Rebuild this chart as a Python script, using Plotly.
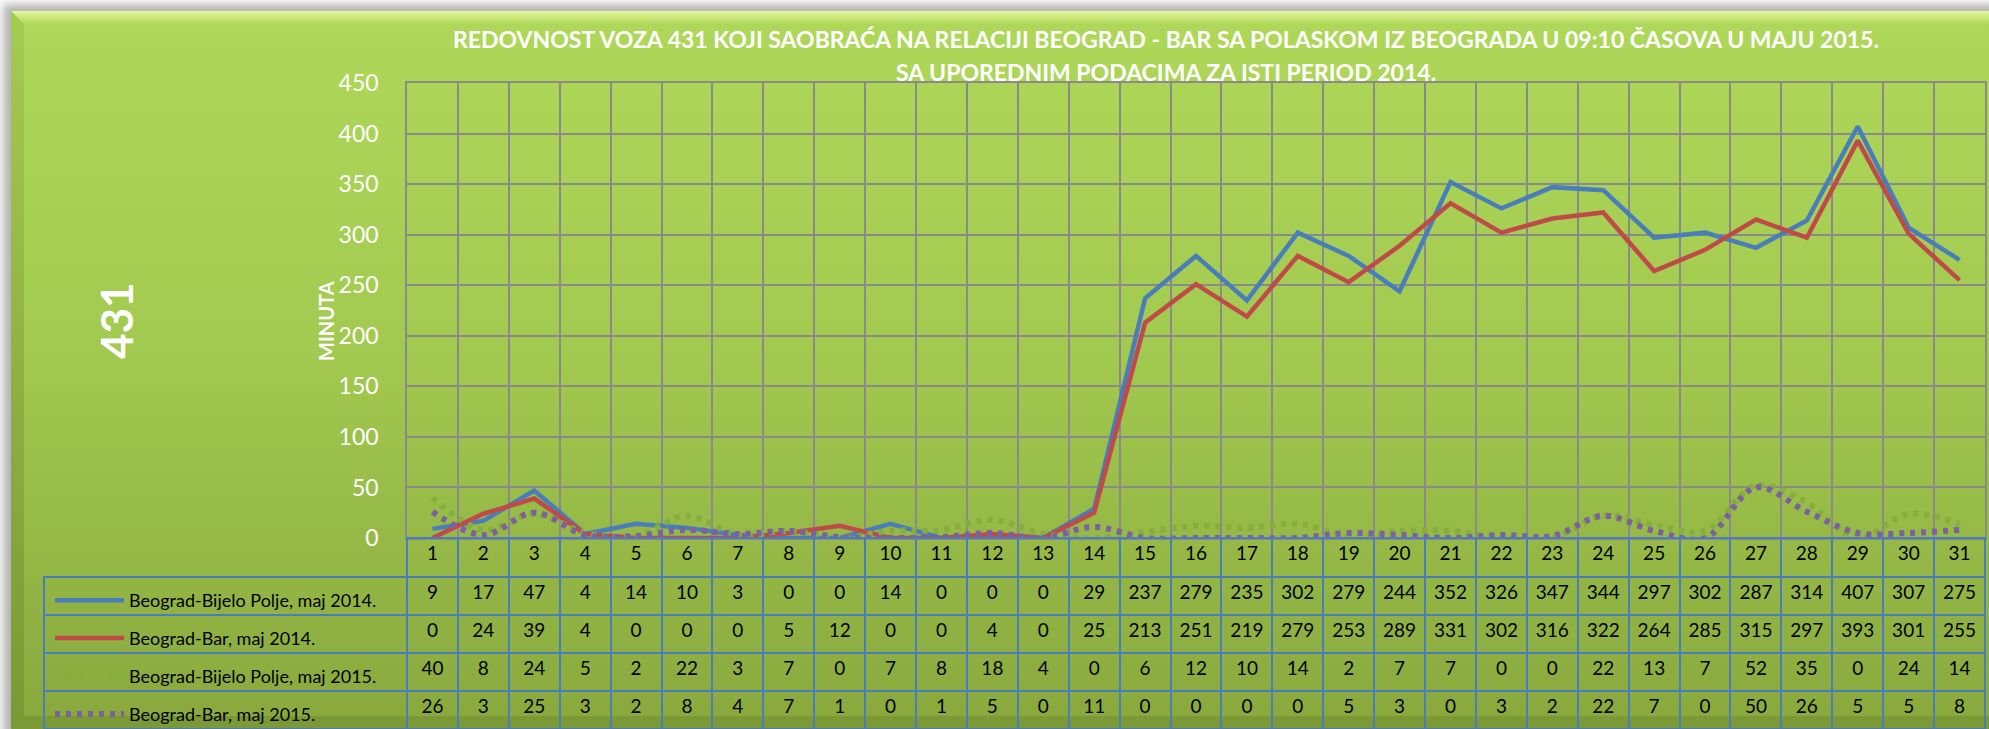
import base64
import plotly.graph_objects as go

W, H = 1989, 729

days = list(range(1, 32))
bp_2014 = [9, 17, 47, 4, 14, 10, 3, 0, 0, 14, 0, 0, 0, 29, 237, 279, 235, 302, 279, 244,
           352, 326, 347, 344, 297, 302, 287, 314, 407, 307, 275]
bar_2014 = [0, 24, 39, 4, 0, 0, 0, 5, 12, 0, 0, 4, 0, 25, 213, 251, 219, 279, 253, 289,
            331, 302, 316, 322, 264, 285, 315, 297, 393, 301, 255]
bp_2015 = [40, 8, 24, 5, 2, 22, 3, 7, 0, 7, 8, 18, 4, 0, 6, 12, 10, 14, 2, 7,
           7, 0, 0, 22, 13, 7, 52, 35, 0, 24, 14]
bar_2015 = [26, 3, 25, 3, 2, 8, 4, 7, 1, 0, 1, 5, 0, 11, 0, 0, 0, 0, 5, 3,
            0, 3, 2, 22, 7, 0, 50, 26, 5, 5, 8]

names = ["Beograd-Bijelo Polje, maj 2014.", "Beograd-Bar, maj 2014.",
         "Beograd-Bijelo Polje, maj 2015.", "Beograd-Bar, maj 2015."]
series = [bp_2014, bar_2014, bp_2015, bar_2015]
colors = ["#4a7ebb", "#be4b48", "#85ae3c", "#7d60a0"]

title1 = "REDOVNOST VOZA 431 KOJI SAOBRAĆA NA RELACIJI BEOGRAD - BAR SA POLASKOM IZ BEOGRADA U 09:10 ČASOVA U MAJU 2015."
title2 = "SA UPOREDNIM PODACIMA ZA ISTI PERIOD 2014."

FONT = "Lato"

PL, PR, PT, PB = 407, 1985, 83, 538
TL = 44

svg = f'''<svg xmlns="http://www.w3.org/2000/svg" width="{W}" height="{H}" viewBox="0 0 {W} {H}" preserveAspectRatio="none">
<defs>
<linearGradient id="g" x1="0" y1="0" x2="0" y2="1">
<stop offset="0" stop-color="#afd85a"/>
<stop offset="0.45" stop-color="#a3ca50"/>
<stop offset="1" stop-color="#87a63c"/>
</linearGradient>
<linearGradient id="t" x1="0" y1="0" x2="0" y2="1">
<stop offset="0" stop-color="#e6f89c"/>
<stop offset="1" stop-color="#b0d85b"/>
</linearGradient>
<linearGradient id="l" x1="0" y1="0" x2="0" y2="1">
<stop offset="0" stop-color="#a4cb52"/>
<stop offset="1" stop-color="#7a9833"/>
</linearGradient>
<filter id="b" x="-5%" y="-5%" width="110%" height="110%"><feGaussianBlur stdDeviation="4"/></filter>
</defs>
<rect width="{W}" height="{H}" fill="#ffffff"/>
<rect x="3" y="4" width="2010" height="760" fill="#b5b5b5" filter="url(#b)"/>
<rect x="11" y="11" width="2000" height="740" fill="url(#g)"/>
<polygon points="11,11 2010,11 2010,24 24,24" fill="url(#t)"/>
<polygon points="11,11 24,24 24,716 11,729" fill="url(#l)"/>
<polygon points="11,729 24,716 2010,716 2010,729" fill="#7b9935"/>
</svg>'''
bg_src = "data:image/svg+xml;base64," + base64.b64encode(svg.encode("utf-8")).decode("ascii")

fig = go.Figure()

for i, (nm, vals, col) in enumerate(zip(names, series, colors)):
    if i < 2:
        line = dict(color=col, width=4.5)
    else:
        line = dict(color=col, width=6, dash="5px,6px", shape="spline", smoothing=1)
    fig.add_trace(go.Scatter(x=days, y=vals, mode="lines", name=nm, line=line,
                             legendgroup=f"g{i}", xaxis="x", yaxis="y"))

table_cells = [[""] * 4] + [[str(s[i]) for s in series] for i in range(31)]
fig.add_trace(go.Table(
    domain=dict(x=[TL / W, PR / W], y=[0, (H - PB) / H]),
    columnwidth=[PL - TL] + [(PR - PL) / 31] * 31,
    header=dict(values=[""] + [str(d) for d in days], height=39,
                fill_color="rgba(0,0,0,0)",
                line=dict(color=["rgba(0,0,0,0)"] + ["#4a7ebb"] * 31, width=2),
                font=dict(family=FONT, size=19, color="black"), align="center"),
    cells=dict(values=table_cells, height=38,
               fill_color="rgba(0,0,0,0)",
               line=dict(color="#4a7ebb", width=2),
               font=dict(family=FONT, size=19, color="black"), align="center"),
))

fig.update_layout(
    width=W, height=H,
    margin=dict(l=0, r=0, t=0, b=0, autoexpand=False),
    paper_bgcolor="white",
    plot_bgcolor="#ebeedf",
    showlegend=True,
    legend=dict(xref="container", yref="container", x=50 / W, xanchor="left",
                y=1 - 582 / H, yanchor="top",
                font=dict(family=FONT, size=18, color="black"),
                bgcolor="rgba(0,0,0,0)", traceorder="grouped", tracegroupgap=11.5,
                itemwidth=69),
    xaxis=dict(domain=[PL / W, PR / W], range=[0.5, 31.5], tick0=0.5, dtick=1,
               showticklabels=False, showgrid=True, gridcolor="#8a8a8a", gridwidth=1.5,
               zeroline=False, showline=True, linecolor="#8a8a8a", linewidth=1.5, mirror=True,
               automargin=False, fixedrange=True),
    yaxis=dict(domain=[(H - PB) / H, (H - PT) / H], range=[0, 450], dtick=50,
               showgrid=True, gridcolor="#8a8a8a", gridwidth=1.5, zeroline=False,
               showline=True, linecolor="#8a8a8a", linewidth=1.5, mirror=True,
               ticks="outside", ticklen=22, tickcolor="rgba(0,0,0,0)",
               tickfont=dict(family=FONT, size=23, color="white"),
               automargin=False, fixedrange=True),
    images=[dict(source=bg_src, xref="paper", yref="paper", x=0, y=1, sizex=1, sizey=1,
                 xanchor="left", yanchor="top", sizing="stretch", layer="below")],
    annotations=[
        dict(text="<b>" + title1 + "</b>", xref="paper", yref="paper", x=1166 / W, y=1 - 39 / H,
             xanchor="center", yanchor="middle", showarrow=False,
             font=dict(family=FONT, size=23, color="white")),
        dict(text="<b>" + title2 + "</b>", xref="paper", yref="paper", x=1166 / W, y=1 - 72 / H,
             xanchor="center", yanchor="middle", showarrow=False,
             font=dict(family=FONT, size=23, color="white")),
        dict(text="<b>431</b>", xref="paper", yref="paper", x=116 / W, y=1 - 321 / H,
             xanchor="center", yanchor="middle", showarrow=False, textangle=-90,
             font=dict(family=FONT, size=44, color="white")),
        dict(text="<b>MINUTA</b>", xref="paper", yref="paper", x=326 / W, y=1 - 321 / H,
             xanchor="center", yanchor="middle", showarrow=False, textangle=-90,
             font=dict(family=FONT, size=20, color="white")),
    ],
)

fig.write_html("out.html", config={"displayModeBar": False},
               post_script="document.body.style.margin='0';document.body.style.overflow='hidden';")
